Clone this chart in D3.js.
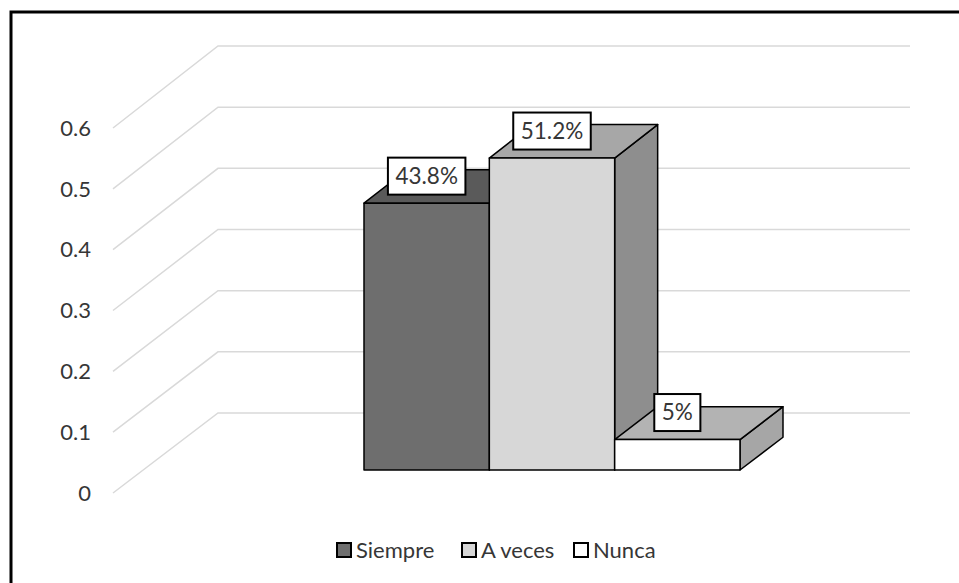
<!DOCTYPE html>
<html>
<head>
<meta charset="utf-8">
<script src="https://cdn.jsdelivr.net/npm/d3@7"></script>
<style>
	body { margin:0; background:#fff; }
	svg { display:block; font-family: Lato, "Open Sans", sans-serif; }
</style>
</head>
<body>
<div id="chart"></div>
<script>
// data
let categories = ["Siempre", "A veces", "Nunca"]
let values = [0.438, 0.512, 0.05]
let valueLabels = ["43.8%", "51.2%", "5%"]
let ticks = [0, 0.1, 0.2, 0.3, 0.4, 0.5, 0.6]
let tickLabels = ["0", "0.1", "0.2", "0.3", "0.4", "0.5", "0.6"]

let fronts = ["#6e6e6e", "#d7d7d7", "#ffffff"]
let tops = ["#5a5a5a", "#a7a7a7", "#b3b3b3"]
let sides = ["#4e4e4e", "#8e8e8e", "#a6a6a6"]

let width = 959, height = 583

let svg = d3.select("#chart").append("svg")
	.attr("width", width)
	.attr("height", height)

// frame (right and bottom edges fall outside the picture)
svg.append("rect")
	.attr("x", 11).attr("y", 12)
	.attr("width", 1000).attr("height", 1000)
	.attr("fill", "none")
	.attr("stroke", "#000")
	.attr("stroke-width", 3)

// the plot is a floor going back in depth: t=0 front, t=1 back wall
let yFront = d3.scaleLinear().domain([0, 0.6]).range([493, 128])
let yBack = d3.scaleLinear().domain([0, 0.6]).range([413, 46])
let depthX = 105
let wallLeft = 218, wallRight = 910
let y = (v, t) => yFront(v) * (1 - t) + yBack(v) * t
let dx = t => depthX * t

// grid: diagonal on the side wall + line on the back wall
let grid = svg.append("g")
	.attr("stroke", "#d9d9d9")
	.attr("stroke-width", 1.5)
	.attr("fill", "none")
grid.selectAll("path")
	.data(ticks)
	.join("path")
	.attr("d", d => `M${wallLeft - depthX},${yFront(d)}L${wallLeft},${yBack(d)}L${wallRight},${yBack(d)}`)

svg.append("g")
	.selectAll("text")
	.data(ticks)
	.join("text")
	.attr("x", 91)
	.attr("y", d => yFront(d))
	.attr("dy", "0.35em")
	.attr("text-anchor", "end")
	.attr("font-size", 22)
	.attr("fill", "#363636")
	.text((d, i) => tickLabels[i])

// bars
let t0 = 0.2875, t1 = 0.697
let x = d3.scaleBand()
	.domain(categories)
	.range([364 - dx(t0), 740 - dx(t0)])
	.padding(0)

let bars = categories.map((c, i) => {
	let x0 = x(c), x1 = x(c) + x.bandwidth(), v = values[i]
	return {
		i: i,
		front: [[x0 + dx(t0), y(0, t0)], [x1 + dx(t0), y(0, t0)], [x1 + dx(t0), y(v, t0)], [x0 + dx(t0), y(v, t0)]],
		top: [[x0 + dx(t0), y(v, t0)], [x1 + dx(t0), y(v, t0)], [x1 + dx(t1), y(v, t1)], [x0 + dx(t1), y(v, t1)]],
		side: [[x1 + dx(t0), y(0, t0)], [x1 + dx(t1), y(0, t1)], [x1 + dx(t1), y(v, t1)], [x1 + dx(t0), y(v, t0)]],
		cx: (x0 + x1) / 2 + dx(t0),
		cy: y(v, t0)
	}
})

let poly = p => "M" + p.map(q => q.join(",")).join("L") + "Z"

let barG = svg.append("g")
	.selectAll("g")
	.data(bars)
	.join("g")
	.attr("stroke", "#000")
	.attr("stroke-width", 1.5)
	.attr("stroke-linejoin", "round")
barG.append("path").attr("d", d => poly(d.side)).attr("fill", d => sides[d.i])
barG.append("path").attr("d", d => poly(d.top)).attr("fill", d => tops[d.i])
barG.append("path").attr("d", d => poly(d.front)).attr("fill", d => fronts[d.i])

// data labels
let labelG = svg.append("g")
	.selectAll("g")
	.data(bars)
	.join("g")
	.attr("transform", d => `translate(${d.cx},${d.cy - 27})`)
labelG.append("rect")
	.attr("fill", "#fff")
	.attr("stroke", "#000")
	.attr("stroke-width", 2)
labelG.append("text")
	.attr("text-anchor", "middle")
	.attr("dy", "0.35em")
	.attr("font-size", 22.5)
	.attr("fill", "#363636")
	.text(d => valueLabels[d.i])
labelG.each(function() {
	let w = d3.select(this).select("text").node().getComputedTextLength() + 15
	d3.select(this).select("rect")
		.attr("x", -w / 2).attr("y", -18.5)
		.attr("width", w).attr("height", 37)
})

// legend
let legendX = [337, 462, 574]
let legend = svg.append("g")
	.selectAll("g")
	.data(categories)
	.join("g")
	.attr("transform", (d, i) => `translate(${legendX[i]},550)`)
legend.append("rect")
	.attr("x", 0).attr("y", -7)
	.attr("width", 14).attr("height", 14)
	.attr("fill", (d, i) => fronts[i])
	.attr("stroke", "#000")
	.attr("stroke-width", 2)
legend.append("text")
	.attr("x", 19)
	.attr("dy", "0.35em")
	.attr("font-size", 22)
	.attr("fill", "#363636")
	.text(d => d)
</script>
</body>
</html>
